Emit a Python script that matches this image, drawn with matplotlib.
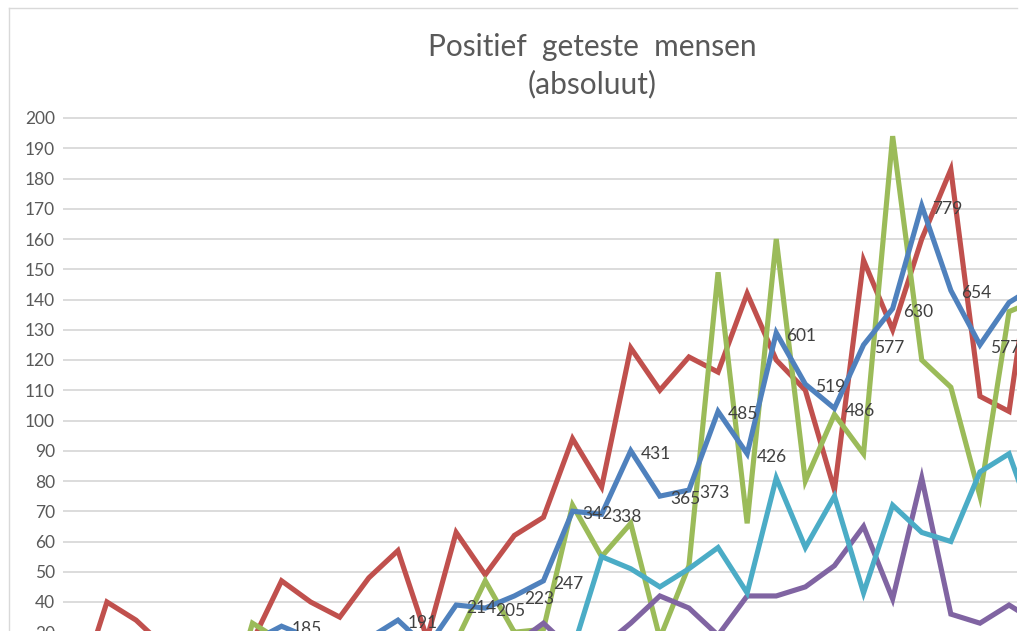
import numpy as np
import matplotlib.pyplot as plt
from matplotlib.lines import Line2D

plt.rcParams['font.family'] = ['Lato', 'DejaVu Sans']

# one value per day (category axis)
red = [10, 40, 34, 25, 22, 20, 27, 47, 40, 35, 48, 57, 28, 63, 49, 62, 68, 94, 78,
       124, 110, 121, 116, 142, 120, 110, 77, 153, 130, 160, 183, 108, 103, 170]
green = [0, 0, 0, 0, 0, 0, 33, 27, 22, 18, 20, 24, 20, 27, 47, 30, 31, 72, 55,
         66, 28, 52, 149, 66, 160, 80, 102, 89, 194, 120, 111, 75, 136, 140]
purple = [1, 1, 2, 2, 3, 3, 4, 5, 6, 8, 10, 12, 14, 16, 18, 26, 33, 24, 25,
          33, 42, 38, 29, 42, 42, 45, 52, 65, 41, 81, 36, 33, 39, 33]
cyan = [2, 3, 3, 4, 5, 6, 8, 9, 10, 12, 13, 15, 14, 16, 18, 20, 22, 24, 55,
        51, 45, 51, 58, 43, 81, 58, 75, 43, 72, 63, 60, 83, 89, 62]
blue = [5, 8, 10, 12, 15, 18, 27, 32, 28, 27, 28, 34, 25, 39, 38, 42, 47, 70, 69,
        90, 75, 77, 103, 89, 129, 112, 104, 125, 137, 171, 143, 125, 139, 145]
# data labels shown next to the blue line (None = not visible)
totals = [None, None, None, None, None, None, None, 185, None, None, None, 191, None,
          214, 205, 223, 247, 342, 338, 431, 365, 373, 485, 426, 601, 519, 486,
          577, 630, 779, 654, 577, None, None]

W, H = 1021, 631
fig = plt.figure(figsize=(W / 100, H / 100), dpi=100)

# pixel layout of the (cropped) plot area
px_left, px_right = 63.3, 1017
px_zero, px_unit, step = 723, 3.025, 29.1
ytop = 202
ax = fig.add_axes([px_left / W, (H - px_zero) / H, (px_right - px_left) / W,
                   ytop * px_unit / H])
ax.set_ylim(0, ytop)
ax.set_xlim(-0.5, -0.5 + (px_right - px_left) / step)

x = np.arange(len(red))
series = [(red, '#C0504D'), (green, '#9BBB59'), (purple, '#8064A2'),
          (cyan, '#4BACC6'), (blue, '#4F81BD')]
for k, (vals, col) in enumerate(series):
    ax.plot(x, vals, color=col, lw=3.7, solid_joinstyle='miter', zorder=3 + k)

for i, t in enumerate(totals):
    if t is None:
        continue
    ax.annotate(str(t), (x[i], blue[i]), xytext=(10, -3), textcoords='offset pixels',
                ha='left', va='center', fontsize=12.5, color='#404040',
                annotation_clip=False, clip_on=True, zorder=10)

ax.set_yticks(range(0, 201, 10))
ax.yaxis.grid(True, color='#D9D9D9', lw=1.3)
ax.set_axisbelow(True)
ax.set_xticks([])
ax.tick_params(axis='y', length=0, pad=6, labelsize=12.5, labelcolor='#595959')
for s in ax.spines.values():
    s.set_visible(False)

fig.text(592 / W, 1 - 47 / H, 'Positief  geteste  mensen', ha='center', va='center',
         fontsize=21.5, color='#595959')
fig.text(592 / W, 1 - 84 / H, '(absoluut)', ha='center', va='center',
         fontsize=21.5, color='#595959')

# chart area border (cropped)
fig.add_artist(Line2D([9 / W, 9 / W], [0, 1 - 8 / H], color='#D9D9D9', lw=1))
fig.add_artist(Line2D([9 / W, px_right / W], [1 - 8 / H, 1 - 8 / H], color='#D9D9D9', lw=1))

fig.savefig('out.png', dpi=100)
